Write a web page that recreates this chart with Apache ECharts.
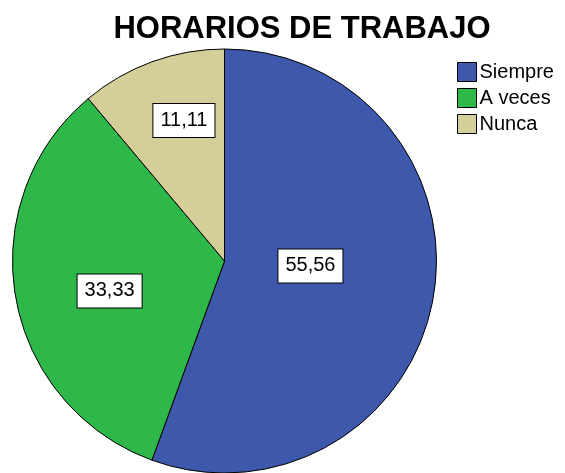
<!DOCTYPE html>
<html>
<head>
<meta charset="utf-8">
<script src="https://cdn.jsdelivr.net/npm/echarts@6/dist/echarts.min.js"></script>
<style>
html,body{margin:0;padding:0;background:#fff;}
#chart{width:565px;height:473px;}
</style>
</head>
<body>
<div id="chart"></div>
<script>
var categories = ['Siempre', 'A veces', 'Nunca'];
var values = [55.56, 33.33, 11.11];
var labels = ['55,56', '33,33', '11,11'];
var colors = ['#3e58ac', '#2fb84a', '#d4cf98'];

// where each value box sits: share of radius, and angle nudge (deg) from the slice middle
var labelFrac = [0.406, 0.56, 0.69];
var labelShift = [-6.7, -4.6, 3.9];
var cx = 224.5, cy = 261, R = 212;

var total = values.reduce(function (a, b) { return a + b; }, 0);

var chart = echarts.init(document.getElementById('chart'));

var data = categories.map(function (c, i) {
    return { name: c, value: values[i], itemStyle: { color: colors[i] } };
});

var option = {
    animation: false,
    title: {
        text: 'HORARIOS DE TRABAJO',
        left: 297,
        textAlign: 'center',
        top: 9,
        textStyle: {
            fontFamily: 'Liberation Sans',
            fontWeight: 'bold',
            fontSize: 31,
            color: '#000'
        }
    },
    legend: {
        orient: 'vertical',
        left: 452,
        top: 57,
        itemWidth: 19,
        itemHeight: 19,
        itemGap: 6,
        icon: 'rect',
        data: categories,
        itemStyle: { borderColor: '#000', borderWidth: 1 },
        textStyle: {
            fontFamily: 'Liberation Sans',
            fontSize: 20,
            color: '#000',
            padding: [0, 0, 0, -2]
        }
    },
    series: [
        {
            name: 'Horarios',
            type: 'pie',
            radius: R,
            center: [cx, cy],
            startAngle: 90,
            clockwise: true,
            data: data,
            itemStyle: { borderColor: '#000', borderWidth: 1 },
            label: {
                show: true,
                position: 'inside',
                formatter: function (p) { return labels[p.dataIndex]; },
                fontFamily: 'Liberation Sans',
                fontSize: 20,
                lineHeight: 20,
                color: '#000',
                backgroundColor: '#fff',
                borderColor: '#000',
                borderWidth: 1,
                padding: [8, 7, 5, 7]
            },
            labelLayout: function (p) {
                var i = p.dataIndex;
                var before = 0;
                for (var k = 0; k < i; k++) before += values[k];
                var mid = (before + values[i] / 2) / total * 360 + labelShift[i];
                var a = mid * Math.PI / 180;
                var r = labelFrac[i] * R;
                return {
                    x: cx + r * Math.sin(a),
                    y: cy - r * Math.cos(a),
                    align: 'center',
                    verticalAlign: 'middle'
                };
            },
            emphasis: { disabled: true }
        }
    ]
};

chart.setOption(option);
</script>
</body>
</html>
